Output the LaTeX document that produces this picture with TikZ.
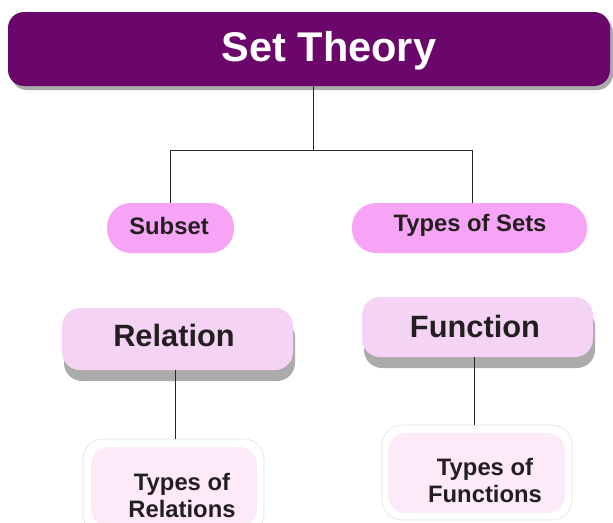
\documentclass[tikz,border=0pt]{standalone}
\usepackage{fontspec}
\setmainfont{Liberation Sans}
\definecolor{stpurple}{HTML}{6B076B}
\definecolor{stpink}{HTML}{F7A4F7}
\definecolor{stlight}{HTML}{F5D3F5}
\definecolor{stpale}{HTML}{FCEAF8}
\definecolor{stshadow}{HTML}{ABABAB}
\definecolor{stedge}{HTML}{E2E2E2}
\definecolor{sttext}{HTML}{231F20}
\begin{document}
\begin{tikzpicture}[x=1pt,y=-1pt,
  box/.style={inner sep=0pt, outer sep=0pt},
  toplevel/.style={box, fill=stpurple, rounded corners=16pt},
  pill/.style={box, fill=stpink, rounded corners=24pt},
  midbox/.style={box, fill=stlight, rounded corners=18pt},
  shade/.style={box, fill=stshadow},
  outerbox/.style={box, fill=white, draw=stedge, line width=0.6pt, rounded corners=20pt},
  innerbox/.style={box, fill=stpale, rounded corners=18pt},
  smalltext/.style={inner sep=0pt, anchor=base, font=\fontsize{23.8}{27}\selectfont\bfseries, text=sttext},
  bigtext/.style={inner sep=0pt, anchor=base, font=\fontsize{30.8}{34}\selectfont\bfseries, text=sttext},
  label/.style={inner sep=0pt, font=\fontsize{23.8}{27}\selectfont\bfseries, text=sttext, align=center},
  link/.style={draw=black!85, line width=0.9pt}]
\useasboundingbox (0,0) rectangle (613,522);
\clip (0,0) rectangle (613,522);
% title
\node[shade, rounded corners=16pt, minimum width=602pt, minimum height=74pt] at (312,53) {};
\node[toplevel, minimum width=602pt, minimum height=74pt] (top) at (309,49) {};
\node[inner sep=0pt, anchor=base, text=white, font=\fontsize{41.5}{46}\selectfont\bfseries] (title) at (329,61) {Set Theory};
% second level
\node[pill, minimum width=127pt, minimum height=50pt] (subset) at (170.5,228) {};
\node[smalltext] (subsettext) at (169,234) {Subset};
\node[pill, minimum width=235pt, minimum height=50pt] (types) at (469.5,228) {};
\node[smalltext] (typestext) at (470,231) {Types of Sets};
% third level
\node[shade, rounded corners=18pt, minimum width=231pt, minimum height=62pt] at (179.5,350) {};
\node[midbox, minimum width=231pt, minimum height=62pt] (relation) at (177.5,339) {};
\node[bigtext] (reltitle) at (174,346) {Relation};
\node[shade, rounded corners=18pt, minimum width=231pt, minimum height=60pt] at (479.5,338) {};
\node[midbox, minimum width=231pt, minimum height=60pt] (function) at (477.5,327) {};
\node[bigtext] (funtitle) at (475,337) {Function};
% fourth level
\node[outerbox, minimum width=181pt, minimum height=96pt] (relout) at (173.5,487) {};
\node[innerbox, minimum width=166pt, minimum height=80pt] (relin) at (174,487) {};
\node[label] (reltext) at (182,495.5) {Types of\\Relations};
\node[outerbox, minimum width=190pt, minimum height=95pt] (funout) at (477,472.5) {};
\node[innerbox, minimum width=177pt, minimum height=80pt] (funin) at (476.5,473) {};
\node[label] (funtext) at (485,480) {Types of\\Functions};
% connectors
\coordinate (j) at (313,150);
\coordinate (tj) at (472,150);
\coordinate (rx) at (175,0);
\coordinate (fx) at (474,0);
\draw[link] (top.south -| j) -- (j);
\draw[link] (subset.north) -- (subset.north |- j) -- (tj) -- (tj |- types.north);
\draw[link] (relation.south -| rx) -- (relout.north -| rx);
\draw[link] (function.south -| fx) -- (funout.north -| fx);
\end{tikzpicture}
\end{document}
